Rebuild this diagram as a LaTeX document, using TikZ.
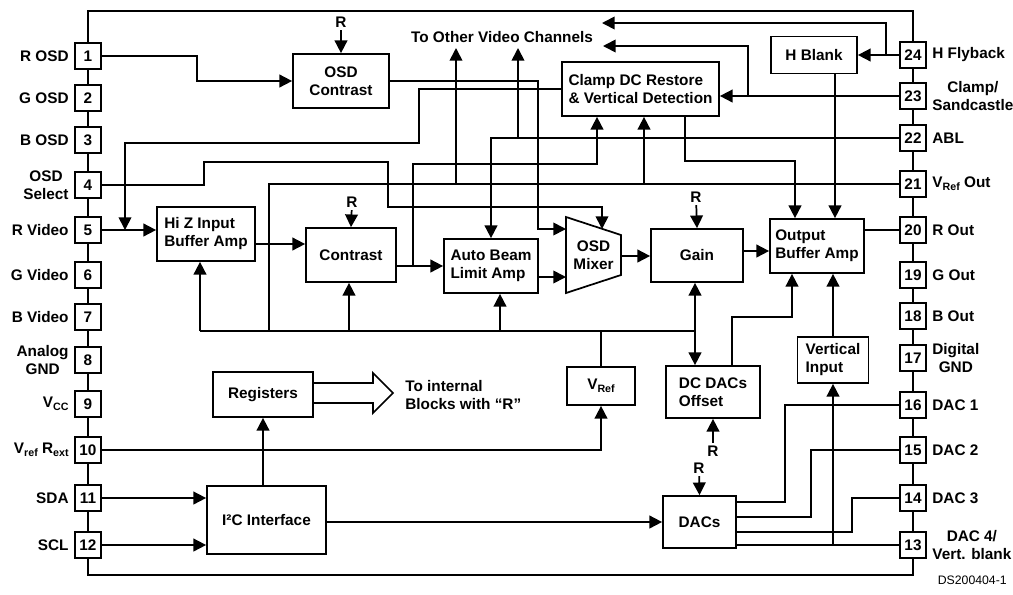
\documentclass[tikz,border=0pt]{standalone}
\usepackage{fontspec}
\setmainfont{Liberation Sans}
\usetikzlibrary{arrows.meta}
\newcommand{\sbs}[1]{\raisebox{-0.35ex}{\fontsize{8}{9}\selectfont #1}}

\begin{document}
\begin{tikzpicture}[x=0.75pt,y=-0.75pt,line width=1.3pt,
    font=\fontsize{11.5}{13.5}\selectfont\bfseries,
    sig/.style={-{Triangle[length=9.5pt,width=9.5pt]}},
    sigb/.style={{Triangle[length=9.5pt,width=9.5pt]}-{Triangle[length=9.5pt,width=9.5pt]}},
    blk/.style={draw,inner sep=2pt},
    pinbox/.style={draw,fill=white,minimum width=19.5pt,minimum height=19.5pt,inner sep=0pt},
    lbl/.style={align=center,inner sep=3.5pt},
    rr/.style={inner sep=1.5pt}]
    \useasboundingbox (0,0) rectangle (1013,594);
    \draw (88,11) rectangle (913,575);

    \foreach \n/\y/\txt in {1/56/R OSD, 2/98/G OSD, 3/140/B OSD, 4/185/{OSD\\Select},
        5/230/R Video, 6/275/G Video, 7/317/B Video, 8/360/{Analog\\GND},
        9/404/V\sbs{CC}, 10/450/{V\sbs{ref} R\sbs{ext}}, 11/498/SDA, 12/545/SCL}
        \node[pinbox,label={[lbl]left:\txt}] (p\n) at (88,\y) {\n};
    \foreach \n/\y/\txt in {24/55/H Flyback, 23/96/{Clamp/\\Sandcastle}, 22/138/ABL,
        21/184/{V\sbs{Ref} Out}, 20/230/R Out, 19/275/G Out, 18/316/B Out, 17/358/{Digital\\GND},
        16/405/DAC 1, 15/450/DAC 2, 14/498/DAC 3, 13/545/{DAC 4/\\Vert. blank}}
        \node[pinbox,label={[lbl]right:\txt}] (p\n) at (913,\y) {\n};

    \node[blk,minimum width=72pt,minimum height=40.5pt,align=center] (osdc) at (341,81) {OSD\\Contrast};
    \node[blk,minimum width=117.75pt,minimum height=40.5pt,align=left] (clamp) at (640.5,89) {Clamp DC Restore\\\& Vertical Detection};
    \node[blk,minimum width=64.5pt,minimum height=27.75pt] (hblank) at (814,55) {H Blank};
    \node[blk,minimum width=73.5pt,minimum height=40.5pt,align=left] (hiz) at (206,234) {Hi Z Input\\Buffer Amp};
    \node[blk,minimum width=67.5pt,minimum height=40.5pt] (contrast) at (351,255) {Contrast};
    \node[blk,minimum width=70.5pt,minimum height=40.5pt,align=left] (abl) at (491,266) {Auto Beam\\Limit Amp};
    \node[blk,minimum width=69pt,minimum height=39.75pt] (gain) at (697,255.5) {Gain};
    \node[blk,minimum width=70.5pt,minimum height=40.5pt,align=left] (obuf) at (817,246) {Output\\Buffer Amp};
    \node[blk,minimum width=53.25pt,minimum height=34.5pt,align=left] (vin) at (833,360) {Vertical\\Input};
    \node[blk,minimum width=70.5pt,minimum height=39pt,align=left] (dcdac) at (713,392) {DC DACs\\Offset};
    \node[blk,minimum width=51pt,minimum height=28.5pt] (vref) at (601,386) {V\sbs{Ref}};
    \node[blk,minimum width=75pt,minimum height=33.75pt] (regs) at (263,394.5) {Registers};
    \node[blk,minimum width=89.25pt,minimum height=51pt] (i2c) at (266.5,520) {I²C Interface};
    \node[blk,minimum width=54.75pt,minimum height=39pt] (dacs) at (699.5,522) {DACs};

    \coordinate (mx1) at (566,217);
    \coordinate (mx2) at (621,235);
    \coordinate (mx3) at (621,275);
    \coordinate (mx4) at (566,293);
    \draw (mx1) -- (mx2) -- (mx3) -- (mx4) -- cycle;
    \node[align=center] (mixer) at (593.5,255) {OSD\\Mixer};
    \coordinate (mxa) at (566,229);
    \coordinate (mxb) at (566,277);
    \coordinate (mxt) at (602,229);
    \coordinate (mxo) at (621,256);

    \node (toc) at (502,37) {To Other Video Channels};
    \coordinate (oc1) at (456,48);
    \coordinate (oc2) at (518,48);
    \coordinate (oc3) at (603,46);
    \coordinate (oc4) at (602,23);
    \coordinate (j5) at (125,230);
    \coordinate (b0) at (200,331);
    \coordinate (b1) at (269,331);
    \coordinate (b2) at (349,331);
    \coordinate (b3) at (500,331);
    \coordinate (b4) at (601,331);
    \coordinate (b5) at (695,331);

    \node[rr] (r1) at (341,22) {R};
    \node[rr] (r2) at (352,202) {R};
    \node[rr] (r3) at (696,197) {R};
    \node[rr] (r4) at (713,451) {R};
    \node[rr] (r5) at (699,468) {R};
    \draw[sig] (r1) -- (osdc.north);
    \draw[sig] (r2) -- (contrast.north);
    \draw[sig] (r3) -- (gain.north);
    \draw[sig] (r4) -- (dcdac.south);
    \draw[sig] (r5) -- (dacs.north);

    \draw[sig] (p1.east) -- ++(95,0) |- (osdc.west);
    \draw[sig] (osdc.east) -- ++(148,0) |- (mxa);
    \draw[sig] (p4.east) -| (204,162) -| (388,207) -| (mxt);
    \draw[sig] (clamp.west) -| (419,143) -| (j5);
    \draw[sig] (p5.east) -- (p5.east -| hiz.west);
    \draw[sig] (hiz.east |- 0,244) -- (contrast.west |- 0,244);
    \draw[sig] (contrast.east |- abl.west) -- (abl.west);
    \draw[sig] (abl.east |- mxb) -- (mxb);
    \draw[sig] (mxo) -- (mxo -| gain.west);
    \draw[sig] (gain.east |- 0,251) -- (obuf.west |- 0,251);
    \draw (obuf.east |- p20.west) -- (p20.west);
    \draw[sig] (413,266) |- (597,164) -- (clamp.south -| 597,0);

    \draw[sig] (p22.west) -| (abl.north);
    \draw[sig] (oc2 |- p22.west) -- (oc2);
    \draw (p21.west) -| (b1);
    \draw[sig] (oc1 |- p21.west) -- (oc1);
    \draw[sig] (p21.west -| 644,0) -- (clamp.south -| 644,0);
    \draw (b0) -- (b5);
    \draw[sig] (b0) -- (b0 |- hiz.south);
    \draw[sig] (b2) -- (b2 |- contrast.south);
    \draw[sig] (b3) -- (b3 |- abl.south);
    \draw (b4) -- (vref.north);
    \draw[sigb] (gain.south -| b5) -- (dcdac.north -| b5);

    \draw[sig] (clamp.south -| 685,0) -- ++(0,44) -| (obuf.north -| 795,0);
    \draw[sig] (hblank.south -| 835,0) -- (obuf.north -| 835,0);
    \draw[sig] (p23.west) -- (p23.west -| clamp.east);
    \draw[sig] (p23.west -| 748,0) |- (oc3);
    \draw[sig] (p24.west) -- (hblank.east);
    \draw[sig] (p24.west -| 886,0) |- (oc4);
    \draw[sig] (vin.north) -- (vin.north |- obuf.south);
    \draw[sig] (dcdac.north -| 732,0) -- ++(0,-48) -| (obuf.south -| 792,0);

    \draw[sig] (p10.east) -| (vref.south);
    \draw[sig] (p11.east) -- (p11.east -| i2c.west);
    \draw[sig] (p12.east) -- (p12.east -| i2c.west);
    \draw[sig] (regs.south |- i2c.north) -- (regs.south);
    \draw[sig] (i2c.east |- dacs.west) -- (dacs.west);

    \draw (dacs.east |- 0,502) -- ++(48,0) |- (p16.west);
    \draw (dacs.east |- 0,517) -- ++(74,0) |- (p15.west);
    \draw (dacs.east |- 0,532) -- ++(115,0) |- (p14.west);
    \draw (dacs.east |- p13.west) -- (p13.west);
    \draw[sig] (vin.south |- p13.west) -- (vin.south);

    \draw (regs.east |- 0,383) -- (373,383) -- (373,373) -- (393,393) -- (373,413) -- (373,403) -- (regs.east |- 0,403);
    \node[anchor=west,align=left] (tib) at (400,395) {To internal\\Blocks with “R”};
    \node[anchor=south east,font=\fontsize{9.2}{11}\selectfont] (ds) at (1012,590) {DS200404-1};
\end{tikzpicture}
\end{document}
